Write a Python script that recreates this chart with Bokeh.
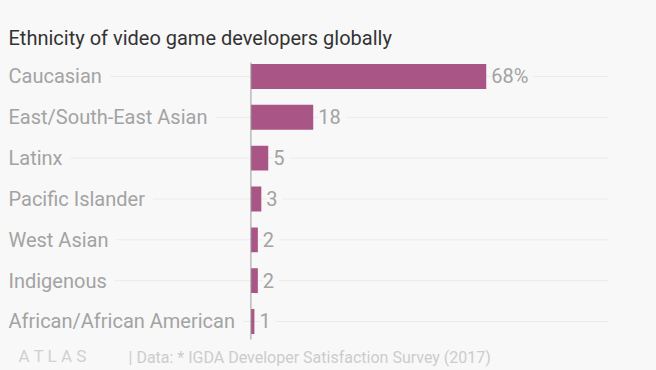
from bokeh.plotting import figure
from bokeh.models import Label, Range1d
from bokeh.core.properties import value
from bokeh.embed import file_html
from bokeh.resources import INLINE

# ---- data ----
categories = ["Caucasian", "East/South-East Asian", "Latinx", "Pacific Islander",
              "West Asian", "Indigenous", "African/African American"]
shares = [68, 18, 5, 3, 2, 2, 1]
value_labels = ["68%", "18", "5", "3", "2", "2", "1"]
title_text = "Ethnicity of video game developers globally"
source_text = "| Data: * IGDA Developer Satisfaction Survey (2017)"

BG = "#f8f8f8"
BAR = "#a95585"
FONT = "Roboto"

n = len(categories)
ypos = [n - 1 - i for i in range(n)]

W, H = 656, 370
x_start, x_end = -72.37, 117.2
y_start, y_end = -1.2, 7.861
label_x = -70.06

p = figure(width=W, height=H, output_backend="svg", toolbar_location=None,
           x_range=Range1d(x_start, x_end), y_range=Range1d(y_start, y_end),
           min_border=0, background_fill_color=BG, border_fill_color=BG,
           outline_line_color=None)
p.axis.visible = False
p.grid.visible = False

# row guide lines
p.segment(x0=[label_x] * n, x1=[103.4] * n, y0=ypos, y1=ypos,
          line_color="#ebebeb", line_width=1)

# bars
p.hbar(y=ypos, left=0, right=shares, height=0.61, fill_color=BAR, line_color=None)

# baseline
p.segment(x0=[0], x1=[0], y0=[min(ypos) - 0.44], y1=[max(ypos) + 0.34],
          line_color="#9a9a9a", line_width=1)

# category labels
p.text(x=[label_x] * n, y=ypos, text=categories, text_font=value(FONT),
       text_font_size="20px", text_color="#a3a3a3", text_align="left",
       text_baseline="middle", background_fill_color=BG, padding=[0, 8, 0, 0])

# value labels
p.text(x=shares, y=ypos, text=value_labels, x_offset=5, text_font=value(FONT),
       text_font_size="20px", text_color="#a3a3a3", text_align="left",
       text_baseline="middle", background_fill_color=BG, padding=[0, 5, 0, 1])

p.add_layout(Label(x=8, y=333, x_units="screen", y_units="screen", text=title_text,
                   text_font=FONT, text_font_size="20px", text_color="#333333",
                   text_baseline="middle"))
p.add_layout(Label(x=18, y=15, x_units="screen", y_units="screen", text="A T L A S",
                   text_font=FONT, text_font_size="17px", text_color="#d0d0d0",
                   text_baseline="middle"))
p.add_layout(Label(x=128, y=13, x_units="screen", y_units="screen", text=source_text,
                   text_font=FONT, text_font_size="16px", text_color="#cccccc",
                   text_baseline="middle"))

html = file_html(p, INLINE).replace("<body>", '<body style="background:#f8f8f8;">')
open("out.html", "w").write(html)
